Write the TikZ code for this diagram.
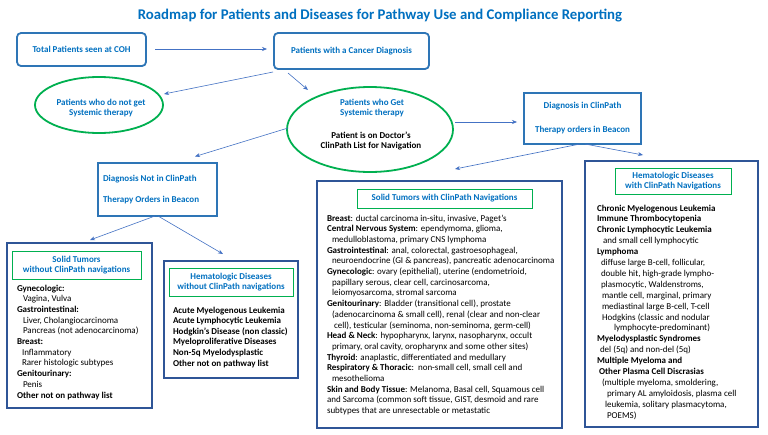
\documentclass[tikz,border=0pt]{standalone}
\usepackage{fontspec}
\setmainfont{Carlito}
\usetikzlibrary{calc,shapes.geometric,arrows.meta}
\definecolor{tblue}{RGB}{0,112,192}
\definecolor{bblue}{RGB}{46,117,182}
\definecolor{navy}{RGB}{47,85,151}
\definecolor{egreen}{RGB}{0,176,80}
\definecolor{arrc}{RGB}{68,114,196}
\begin{document}
\begin{tikzpicture}[x=1pt,y=-1pt,
 every node/.style={inner sep=0pt,outer sep=0pt},
 topbox/.style={draw=bblue,line width=1.8pt,rounded corners=4pt,font=\fontsize{9}{11}\selectfont\bfseries,text=tblue},
 sqbox/.style={draw=bblue,line width=1.8pt,font=\fontsize{9}{11}\selectfont\bfseries,text=tblue},
 oval/.style={ellipse,draw=egreen,line width=1.8pt},
 ovtext/.style={align=center,font=\fontsize{9}{10}\selectfont\bfseries},
 outerbox/.style={draw=navy,line width=1.8pt},
 headbox/.style={draw=egreen,line width=1pt,align=center,font=\fontsize{9}{10.5}\selectfont\bfseries,text=tblue},
 listtext/.style={anchor=north west,align=left,font=\fontsize{9}{10.7}\selectfont},
 arr/.style={draw=arrc,line width=0.6pt,-{Stealth[length=5pt,width=4pt]}}]
\useasboundingbox (0,0) rectangle (768,434);
\fill[white] (0,0) rectangle (768,434);

\node[font=\fontsize{14.8}{16}\selectfont\bfseries,text=tblue] (title) at (380,16) {Roadmap for Patients and Diseases for Pathway Use and Compliance Reporting};

\node[topbox,minimum width=129pt,minimum height=33pt] (total) at (81.5,49.5) {Total Patients seen at COH};
\node[topbox,minimum width=155pt,minimum height=36pt] (cancer) at (351.5,51) {Patients with a Cancer Diagnosis};

\node[oval,minimum width=128pt,minimum height=56pt] (ell1) at (99,105) {};
\node[ovtext,text=tblue] (ell1t) at (101,108) {Patients who do not get\\Systemic therapy};

\node[oval,minimum width=166pt,minimum height=85pt] (ell2) at (370,129.5) {};
\node[ovtext,text=tblue] (ell2a) at (372,108) {Patients who Get\\Systemic therapy};
\node[ovtext,text=black] (ell2b) at (371,141) {Patient is on Doctor’s\\ClinPath List for Navigation};

\node[sqbox,minimum width=117pt,minimum height=51pt,align=center] (clin) at (582.5,118.5) {Diagnosis in ClinPath\\[13pt]Therapy orders in Beacon};

\node[sqbox,minimum width=119pt,minimum height=53pt] (diagnot) at (157.5,189.5) {};
\node[anchor=west,align=left,font=\fontsize{9}{11}\selectfont\bfseries,text=tblue] (diagnott) at (103,189.5) {Diagnosis Not in ClinPath\\[10pt]Therapy Orders in Beacon};

% Solid tumors without
\node[outerbox,minimum width=145pt,minimum height=165pt] (swo) at (79.5,325.5) {};
\node[headbox,minimum width=129pt,minimum height=28pt] (swoh) at (76.5,265) {Solid Tumors\\without ClinPath navigations};
\node[listtext] (swol) at (17,283.5) {\rule{0pt}{7.5pt}\textbf{Gynecologic:}\\
\hspace*{6pt}Vagina, Vulva\\
\textbf{Gastrointestinal:}\\
\hspace*{6pt}Liver, Cholangiocarcinoma\\
\hspace*{6pt}Pancreas (not adenocarcinoma)\\
\textbf{Breast:}\\
\hspace*{5pt}Inflammatory\\
\hspace*{5pt}Rarer histologic subtypes\\
\textbf{Genitourinary:}\\
\hspace*{6pt}Penis\\
\textbf{Other not on pathway list}};

% Hematologic without
\node[outerbox,minimum width=134pt,minimum height=117pt] (hwo) at (231,319.5) {};
\node[headbox,minimum width=124pt,minimum height=28pt] (hwoh) at (231,282) {Hematologic Diseases\\without ClinPath navigations};
\node[listtext,font=\fontsize{9}{10.6}\selectfont\bfseries] (hwol) at (173,305.5) {\rule{0pt}{7.5pt}Acute Myelogenous Leukemia\\
Acute Lymphocytic Leukemia\\
Hodgkin’s Disease (non classic)\\
Myeloproliferative Diseases\\
Non-5q Myelodysplastic\\
Other not on pathway list};

% Solid tumors with
\node[outerbox,minimum width=245pt,minimum height=247pt] (sw) at (439.5,304.5) {};
\node[headbox,minimum width=175pt,minimum height=19pt] (swh) at (444.5,198.5) {Solid Tumors with ClinPath Navigations};
\node[listtext] (swl) at (327,213.5) {\rule{0pt}{7.5pt}\textbf{Breast}: ductal carcinoma in-situ, invasive, Paget’s\\
\textbf{Central Nervous System}: ependymoma, glioma,\\
\hspace*{5pt}medulloblastoma, primary CNS lymphoma\\
\textbf{Gastrointestinal}: anal, colorectal, gastroesophageal,\\
\hspace*{5pt}neuroendocrine (GI \& pancreas), pancreatic adenocarcinoma\\
\textbf{Gynecologic}: ovary (epithelial), uterine (endometrioid,\\
\hspace*{5pt}papillary serous, clear cell, carcinosarcoma,\\
\hspace*{5pt}leiomyosarcoma, stromal sarcoma\\
\textbf{Genitourinary}: Bladder (transitional cell), prostate\\
\hspace*{5pt}(adenocarcinoma \& small cell), renal (clear and non-clear\\
\hspace*{7pt}cell), testicular (seminoma, non-seminoma, germ-cell)\\
\textbf{Head \& Neck}: hypopharynx, larynx, nasopharynx, occult\\
\hspace*{5pt}primary, oral cavity, oropharynx and some other sites)\\
\textbf{Thyroid}: anaplastic, differentiated and medullary\\
\textbf{Respiratory \& Thoracic}:\ \ non-small cell, small cell and\\
\hspace*{5pt}mesothelioma\\
\textbf{Skin and Body Tissue}: Melanoma, Basal cell, Squamous cell\\
and Sarcoma (common soft tissue, GIST, desmoid and rare\\
subtypes that are unresectable or metastatic};

% Hematologic with
\node[outerbox,minimum width=173pt,minimum height=266pt] (hw) at (671.5,294) {};
\node[headbox,minimum width=116pt,minimum height=26pt] (hwh) at (673,181) {Hematologic Diseases\\with ClinPath Navigations};
\node[listtext,font=\fontsize{9}{10.9}\selectfont] (hwl) at (597,203.5) {\rule{0pt}{7.5pt}\textbf{Chronic Myelogenous Leukemia}\\
\textbf{Immune Thrombocytopenia}\\
\textbf{Chronic Lymphocytic Leukemia}\\
\hspace*{6pt}and small cell lymphocytic\\
\textbf{Lymphoma}\\
\hspace*{4pt}diffuse large B-cell, follicular,\\
\hspace*{4pt}double hit, high-grade lympho-\\
\hspace*{4pt}plasmocytic, Waldenstroms,\\
\hspace*{5pt}mantle cell, marginal, primary\\
\hspace*{5pt}mediastinal large B-cell, T-cell\\
\hspace*{5pt}Hodgkins (classic and nodular\\
\hspace*{17pt}lymphocyte-predominant)\\
\textbf{Myelodysplastic Syndromes}\\
\hspace*{3pt}del (5q) and non-del (5q)\\
\textbf{Multiple Myeloma and}\\
\hspace*{2pt}\textbf{Other Plasma Cell Discrasias}\\
\hspace*{5pt}(multiple myeloma, smoldering,\\
\hspace*{10pt}primary AL amyloidosis, plasma cell\\
\hspace*{8pt}leukemia, solitary plasmacytoma,\\
\hspace*{10pt}POEMS)};

% connectors
\draw[arr] ($(total.east)+(9,-0.5)$) -- ($(cancer.west)+(-7,-2)$);
\draw[arr] ($(cancer.south west)+(-1,3)$) -- ($(ell1.east)+(1,-11)$);
\draw[arr] ($(cancer.south west)+(14,4)$) -- ($(ell2.center)+(-62,-39.5)$);
\draw[arr] ($(ell2.east)+(2,-7.5)$) -- ($(clin.west)+(-7,3.5)$);
\draw[arr] ($(ell2.west)+(1,-1.5)$) -- ($(diagnot.north)+(37.5,-6.5)$);
\draw[arr] ($(clin.south)+(-2.5,0)$) -- ($(sw.north)+(15.5,-12)$);
\draw[arr] ($(clin.south)+(2.5,0)$) -- ($(hw.north west)+(58,-6)$);
\draw[arr] ($(diagnot.south)+(-2.5,0)$) -- ($(swo.north)+(10.5,-3)$);
\draw[arr] ($(diagnot.south)+(0.5,0)$) -- ($(hwo.north)+(-8,-7)$);
\end{tikzpicture}
\end{document}
